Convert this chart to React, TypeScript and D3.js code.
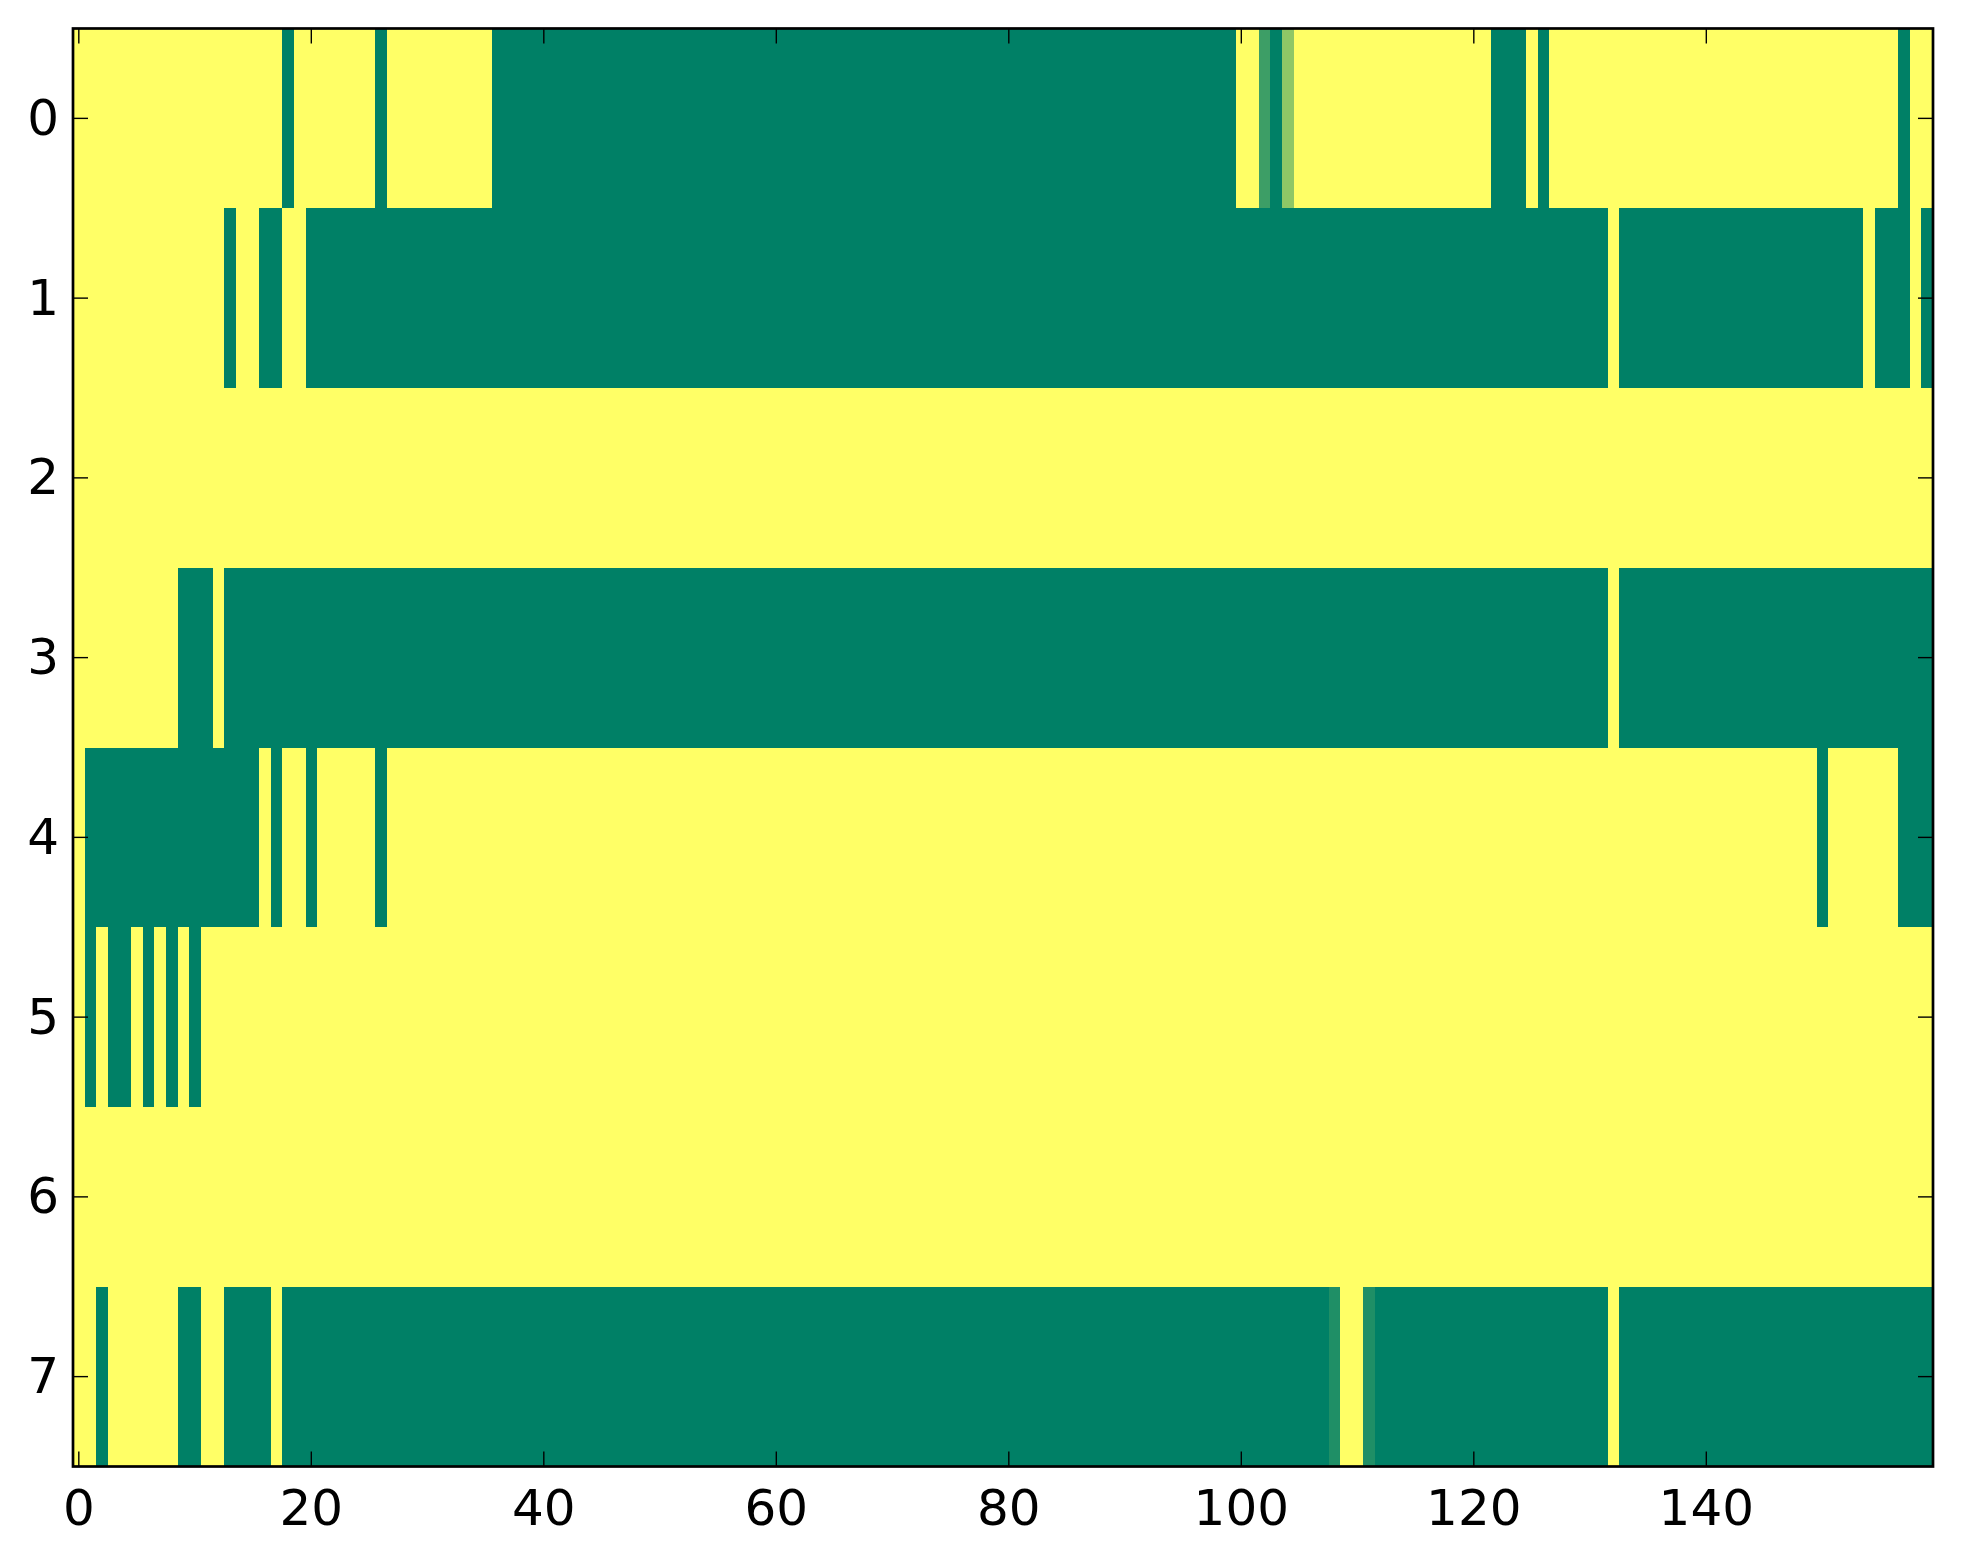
import React from "react";
import * as d3 from "d3";

// Values, one array per row (0 = green, 1 = yellow, "summer" colour map)
const row0 = [
  1, 1, 1, 1, 1, 1, 1, 1, 1, 1, 1, 1, 1, 1, 1, 1, 1, 1, 0, 1,
  1, 1, 1, 1, 1, 1, 0, 1, 1, 1, 1, 1, 1, 1, 1, 1, 0, 0, 0, 0,
  0, 0, 0, 0, 0, 0, 0, 0, 0, 0, 0, 0, 0, 0, 0, 0, 0, 0, 0, 0,
  0, 0, 0, 0, 0, 0, 0, 0, 0, 0, 0, 0, 0, 0, 0, 0, 0, 0, 0, 0,
  0, 0, 0, 0, 0, 0, 0, 0, 0, 0, 0, 0, 0, 0, 0, 0, 0, 0, 0, 0,
  1, 1, 0.24, 0, 0.56, 1, 1, 1, 1, 1, 1, 1, 1, 1, 1, 1, 1, 1, 1, 1,
  1, 1, 0, 0, 0, 1, 0, 1, 1, 1, 1, 1, 1, 1, 1, 1, 1, 1, 1, 1,
  1, 1, 1, 1, 1, 1, 1, 1, 1, 1, 1, 1, 1, 1, 1, 1, 1, 0, 1, 1,
];

const row1 = [
  1, 1, 1, 1, 1, 1, 1, 1, 1, 1, 1, 1, 1, 0, 1, 1, 0, 0, 1, 1,
  0, 0, 0, 0, 0, 0, 0, 0, 0, 0, 0, 0, 0, 0, 0, 0, 0, 0, 0, 0,
  0, 0, 0, 0, 0, 0, 0, 0, 0, 0, 0, 0, 0, 0, 0, 0, 0, 0, 0, 0,
  0, 0, 0, 0, 0, 0, 0, 0, 0, 0, 0, 0, 0, 0, 0, 0, 0, 0, 0, 0,
  0, 0, 0, 0, 0, 0, 0, 0, 0, 0, 0, 0, 0, 0, 0, 0, 0, 0, 0, 0,
  0, 0, 0, 0, 0, 0, 0, 0, 0, 0, 0, 0, 0, 0, 0, 0, 0, 0, 0, 0,
  0, 0, 0, 0, 0, 0, 0, 0, 0, 0, 0, 0, 1, 0, 0, 0, 0, 0, 0, 0,
  0, 0, 0, 0, 0, 0, 0, 0, 0, 0, 0, 0, 0, 0, 1, 0, 0, 0, 1, 0,
];

const row2 = [
  1, 1, 1, 1, 1, 1, 1, 1, 1, 1, 1, 1, 1, 1, 1, 1, 1, 1, 1, 1,
  1, 1, 1, 1, 1, 1, 1, 1, 1, 1, 1, 1, 1, 1, 1, 1, 1, 1, 1, 1,
  1, 1, 1, 1, 1, 1, 1, 1, 1, 1, 1, 1, 1, 1, 1, 1, 1, 1, 1, 1,
  1, 1, 1, 1, 1, 1, 1, 1, 1, 1, 1, 1, 1, 1, 1, 1, 1, 1, 1, 1,
  1, 1, 1, 1, 1, 1, 1, 1, 1, 1, 1, 1, 1, 1, 1, 1, 1, 1, 1, 1,
  1, 1, 1, 1, 1, 1, 1, 1, 1, 1, 1, 1, 1, 1, 1, 1, 1, 1, 1, 1,
  1, 1, 1, 1, 1, 1, 1, 1, 1, 1, 1, 1, 1, 1, 1, 1, 1, 1, 1, 1,
  1, 1, 1, 1, 1, 1, 1, 1, 1, 1, 1, 1, 1, 1, 1, 1, 1, 1, 1, 1,
];

const row3 = [
  1, 1, 1, 1, 1, 1, 1, 1, 1, 0, 0, 0, 1, 0, 0, 0, 0, 0, 0, 0,
  0, 0, 0, 0, 0, 0, 0, 0, 0, 0, 0, 0, 0, 0, 0, 0, 0, 0, 0, 0,
  0, 0, 0, 0, 0, 0, 0, 0, 0, 0, 0, 0, 0, 0, 0, 0, 0, 0, 0, 0,
  0, 0, 0, 0, 0, 0, 0, 0, 0, 0, 0, 0, 0, 0, 0, 0, 0, 0, 0, 0,
  0, 0, 0, 0, 0, 0, 0, 0, 0, 0, 0, 0, 0, 0, 0, 0, 0, 0, 0, 0,
  0, 0, 0, 0, 0, 0, 0, 0, 0, 0, 0, 0, 0, 0, 0, 0, 0, 0, 0, 0,
  0, 0, 0, 0, 0, 0, 0, 0, 0, 0, 0, 0, 1, 0, 0, 0, 0, 0, 0, 0,
  0, 0, 0, 0, 0, 0, 0, 0, 0, 0, 0, 0, 0, 0, 0, 0, 0, 0, 0, 0,
];

const row4 = [
  1, 0, 0, 0, 0, 0, 0, 0, 0, 0, 0, 0, 0, 0, 0, 0, 1, 0, 1, 1,
  0, 1, 1, 1, 1, 1, 0, 1, 1, 1, 1, 1, 1, 1, 1, 1, 1, 1, 1, 1,
  1, 1, 1, 1, 1, 1, 1, 1, 1, 1, 1, 1, 1, 1, 1, 1, 1, 1, 1, 1,
  1, 1, 1, 1, 1, 1, 1, 1, 1, 1, 1, 1, 1, 1, 1, 1, 1, 1, 1, 1,
  1, 1, 1, 1, 1, 1, 1, 1, 1, 1, 1, 1, 1, 1, 1, 1, 1, 1, 1, 1,
  1, 1, 1, 1, 1, 1, 1, 1, 1, 1, 1, 1, 1, 1, 1, 1, 1, 1, 1, 1,
  1, 1, 1, 1, 1, 1, 1, 1, 1, 1, 1, 1, 1, 1, 1, 1, 1, 1, 1, 1,
  1, 1, 1, 1, 1, 1, 1, 1, 1, 1, 0, 1, 1, 1, 1, 1, 1, 0, 0, 0,
];

const row5 = [
  1, 0, 1, 0, 0, 1, 0, 1, 0, 1, 0, 1, 1, 1, 1, 1, 1, 1, 1, 1,
  1, 1, 1, 1, 1, 1, 1, 1, 1, 1, 1, 1, 1, 1, 1, 1, 1, 1, 1, 1,
  1, 1, 1, 1, 1, 1, 1, 1, 1, 1, 1, 1, 1, 1, 1, 1, 1, 1, 1, 1,
  1, 1, 1, 1, 1, 1, 1, 1, 1, 1, 1, 1, 1, 1, 1, 1, 1, 1, 1, 1,
  1, 1, 1, 1, 1, 1, 1, 1, 1, 1, 1, 1, 1, 1, 1, 1, 1, 1, 1, 1,
  1, 1, 1, 1, 1, 1, 1, 1, 1, 1, 1, 1, 1, 1, 1, 1, 1, 1, 1, 1,
  1, 1, 1, 1, 1, 1, 1, 1, 1, 1, 1, 1, 1, 1, 1, 1, 1, 1, 1, 1,
  1, 1, 1, 1, 1, 1, 1, 1, 1, 1, 1, 1, 1, 1, 1, 1, 1, 1, 1, 1,
];

const row6 = [
  1, 1, 1, 1, 1, 1, 1, 1, 1, 1, 1, 1, 1, 1, 1, 1, 1, 1, 1, 1,
  1, 1, 1, 1, 1, 1, 1, 1, 1, 1, 1, 1, 1, 1, 1, 1, 1, 1, 1, 1,
  1, 1, 1, 1, 1, 1, 1, 1, 1, 1, 1, 1, 1, 1, 1, 1, 1, 1, 1, 1,
  1, 1, 1, 1, 1, 1, 1, 1, 1, 1, 1, 1, 1, 1, 1, 1, 1, 1, 1, 1,
  1, 1, 1, 1, 1, 1, 1, 1, 1, 1, 1, 1, 1, 1, 1, 1, 1, 1, 1, 1,
  1, 1, 1, 1, 1, 1, 1, 1, 1, 1, 1, 1, 1, 1, 1, 1, 1, 1, 1, 1,
  1, 1, 1, 1, 1, 1, 1, 1, 1, 1, 1, 1, 1, 1, 1, 1, 1, 1, 1, 1,
  1, 1, 1, 1, 1, 1, 1, 1, 1, 1, 1, 1, 1, 1, 1, 1, 1, 1, 1, 1,
];

const row7 = [
  1, 1, 0, 1, 1, 1, 1, 1, 1, 0, 0, 1, 1, 0, 0, 0, 0, 1, 0, 0,
  0, 0, 0, 0, 0, 0, 0, 0, 0, 0, 0, 0, 0, 0, 0, 0, 0, 0, 0, 0,
  0, 0, 0, 0, 0, 0, 0, 0, 0, 0, 0, 0, 0, 0, 0, 0, 0, 0, 0, 0,
  0, 0, 0, 0, 0, 0, 0, 0, 0, 0, 0, 0, 0, 0, 0, 0, 0, 0, 0, 0,
  0, 0, 0, 0, 0, 0, 0, 0, 0, 0, 0, 0, 0, 0, 0, 0, 0, 0, 0, 0,
  0, 0, 0, 0, 0, 0, 0, 0, 0.12, 1, 1, 0.12, 0, 0, 0, 0, 0, 0, 0, 0,
  0, 0, 0, 0, 0, 0, 0, 0, 0, 0, 0, 0, 1, 0, 0, 0, 0, 0, 0, 0,
  0, 0, 0, 0, 0, 0, 0, 0, 0, 0, 0, 0, 0, 0, 0, 0, 0, 0, 0, 0,
];

const rows = [row0, row1, row2, row3, row4, row5, row6, row7];

const xTicks = [0, 20, 40, 60, 80, 100, 120, 140];
const yTicks = [0, 1, 2, 3, 4, 5, 6, 7];

const W = 1963;
const H = 1564;
const margin = { left: 73, right: 30, top: 28.5, bottom: 97.5 };

const App: React.FC = () => {
  const nCols = row0.length;
  const x = d3.scaleLinear().domain([-0.5, nCols - 0.5]).range([margin.left, W - margin.right]);
  const y = d3.scaleLinear().domain([-0.5, rows.length - 0.5]).range([margin.top, H - margin.bottom]);
  // matplotlib "summer": (v, 0.5 + v/2, 0.4)
  const color = d3.scaleLinear<string>().domain([0, 1]).range(["#008066", "#ffff66"]);

  const x0 = x.range()[0];
  const x1 = x.range()[1];
  const y0 = y.range()[0];
  const y1 = y.range()[1];
  const tickLen = 15;
  const font = "'DejaVu Sans', sans-serif";

  return (
    <div style={{ position: "absolute", left: 0, top: 0 }}>
      <svg width={W} height={H} style={{ display: "block", background: "#fff" }}>
        <g shapeRendering="crispEdges">
          {rows.map((row, r) =>
            row.map((v, c) => (
              <rect
                key={`${r}-${c}`}
                x={x(c - 0.5)}
                y={y(r - 0.5)}
                width={x(c + 0.5) - x(c - 0.5) + 0.3}
                height={y(r + 0.5) - y(r - 0.5) + 0.3}
                fill={color(v)}
              />
            ))
          )}
        </g>

        {/* ticks, pointing inwards on all four sides */}
        <g stroke="#000" strokeWidth={1.4}>
          {xTicks.map((t) => (
            <g key={`xt${t}`}>
              <line x1={x(t)} x2={x(t)} y1={y1} y2={y1 - tickLen} />
              <line x1={x(t)} x2={x(t)} y1={y0} y2={y0 + tickLen} />
            </g>
          ))}
          {yTicks.map((t) => (
            <g key={`yt${t}`}>
              <line x1={x0} x2={x0 + tickLen} y1={y(t)} y2={y(t)} />
              <line x1={x1} x2={x1 - tickLen} y1={y(t)} y2={y(t)} />
            </g>
          ))}
        </g>

        <rect x={x0} y={y0} width={x1 - x0} height={y1 - y0} fill="none" stroke="#000" strokeWidth={2.7} />

        <g fontFamily={font} fontSize={50} fill="#000">
          {xTicks.map((t) => (
            <text key={`xl${t}`} x={x(t)} y={y1 + 58.5} textAnchor="middle">
              {t}
            </text>
          ))}
          {yTicks.map((t) => (
            <text key={`yl${t}`} x={x0 - 14} y={y(t) + 16.5} textAnchor="end">
              {t}
            </text>
          ))}
        </g>
      </svg>
    </div>
  );
};

export default App;
